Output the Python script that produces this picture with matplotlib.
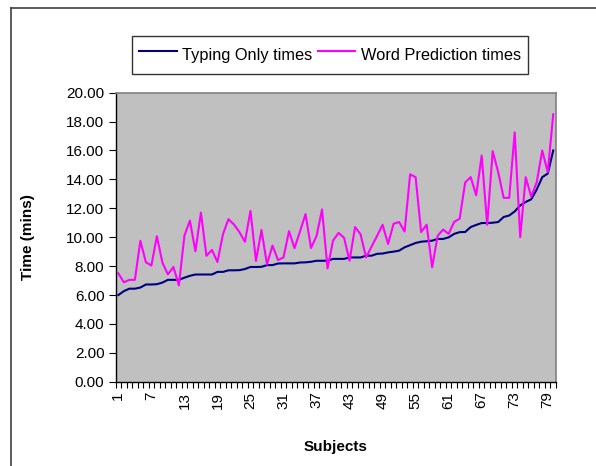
import matplotlib
matplotlib.use('Agg')
import matplotlib.pyplot as plt
from matplotlib.lines import Line2D
from matplotlib.ticker import FormatStrFormatter

plt.rcParams['font.family'] = ['Liberation Sans', 'DejaVu Sans']

# Subject numbers 1..80
subjects = list(range(1, 81))

# Typing only times (sorted ascending)
typing_only = [
    6.00, 6.27, 6.44, 6.44, 6.52, 6.73, 6.73, 6.75, 6.86, 7.05,
    7.05, 7.05, 7.20, 7.33, 7.42, 7.42, 7.42, 7.42, 7.60, 7.60,
    7.71, 7.71, 7.72, 7.80, 7.94, 7.94, 7.95, 8.07, 8.07, 8.18,
    8.19, 8.19, 8.19, 8.25, 8.26, 8.30, 8.37, 8.37, 8.37, 8.50,
    8.50, 8.50, 8.60, 8.60, 8.60, 8.72, 8.72, 8.85, 8.87, 8.95,
    9.00, 9.07, 9.30, 9.45, 9.60, 9.69, 9.72, 9.76, 9.88, 9.88,
    9.99, 10.23, 10.35, 10.36, 10.70, 10.85, 10.98, 10.98, 11.00, 11.05,
    11.40, 11.50, 11.78, 12.20, 12.44, 12.62, 13.30, 14.15, 14.40, 16.00,
]

# Word prediction times
word_prediction = [
    7.50, 6.88, 7.05, 7.05, 9.75, 8.27, 8.04, 10.07, 8.25, 7.43,
    7.94, 6.67, 10.10, 11.15, 9.03, 11.70, 8.71, 9.12, 8.28, 10.20,
    11.25, 10.88, 10.35, 9.68, 11.82, 8.36, 10.50, 8.12, 9.42, 8.42,
    8.60, 10.42, 9.24, 10.40, 11.60, 9.25, 10.08, 11.92, 7.84, 9.76,
    10.30, 9.96, 8.37, 10.70, 10.20, 8.60, 9.35, 10.09, 10.86, 9.53,
    10.93, 11.05, 10.39, 14.35, 14.15, 10.35, 10.86, 7.92, 10.10, 10.53,
    10.23, 11.06, 11.28, 13.78, 14.16, 12.90, 15.65, 10.86, 15.95, 14.50,
    12.72, 12.72, 17.25, 10.00, 14.15, 12.80, 13.80, 16.00, 14.50, 18.50,
]

x_labels = [str(i) for i in range(1, 81, 6)]

fig = plt.figure(figsize=(5.96, 4.66), dpi=100)
ax = fig.add_axes([115.6 / 596, 1 - 381.8 / 466, (556 - 115.6) / 596, (381.8 - 92.6) / 466])
ax.set_facecolor('#C0C0C0')

ax.plot(subjects, typing_only, color='#000080', lw=1.5, label='Typing Only times')
ax.plot(subjects, word_prediction, color='#FF00FF', lw=1.5, label='Word Prediction times')

ax.set_xlim(0.5, 80.5)
ax.set_ylim(0, 20)
ax.set_yticks(range(0, 21, 2))
ax.yaxis.set_major_formatter(FormatStrFormatter('%.2f'))
ax.set_xticks(range(1, 81, 6))
ax.set_xticklabels(x_labels, rotation=90)
ax.set_xticks([i + 0.5 for i in range(0, 81)], minor=True)
ax.tick_params(axis='x', which='major', length=0, pad=7, labelsize=11)
ax.tick_params(axis='x', which='minor', length=4, width=0.8, direction='out')
ax.tick_params(axis='y', length=5, width=0.8, labelsize=11, pad=3)

for s in ['top', 'right']:
    ax.spines[s].set_color('#808080')
    ax.spines[s].set_linewidth(1.2)
for s in ['left', 'bottom']:
    ax.spines[s].set_color('#000000')
    ax.spines[s].set_linewidth(1.0)

fig.text(28 / 596, 1 - 237 / 466, 'Time (mins)', rotation=90, ha='center', va='center',
         fontsize=11, fontweight='bold')
fig.text(335.8 / 596, 1 - 447 / 466, 'Subjects', ha='center', va='center',
         fontsize=11, fontweight='bold')

leg = fig.legend(loc='center', bbox_to_anchor=(330 / 596, 1 - 55 / 466), ncol=2,
                 fontsize=11.8, frameon=True, fancybox=False, shadow=False,
                 handlelength=2.3, handletextpad=0.35, columnspacing=0.3,
                 borderpad=0.4, handleheight=2.0, borderaxespad=0)
leg.get_frame().set_edgecolor('black')
leg.get_frame().set_linewidth(1.0)

# chart area border (only left and top edges are visible in the crop)
fig.add_artist(Line2D([10.5 / 596, 10.5 / 596], [0, 1 - 7.5 / 466], color='#404040', lw=1.2))
fig.add_artist(Line2D([10.5 / 596, 1], [1 - 7.5 / 466, 1 - 7.5 / 466], color='#404040', lw=1.2))

fig.savefig('out.png', dpi=100, facecolor='white')
